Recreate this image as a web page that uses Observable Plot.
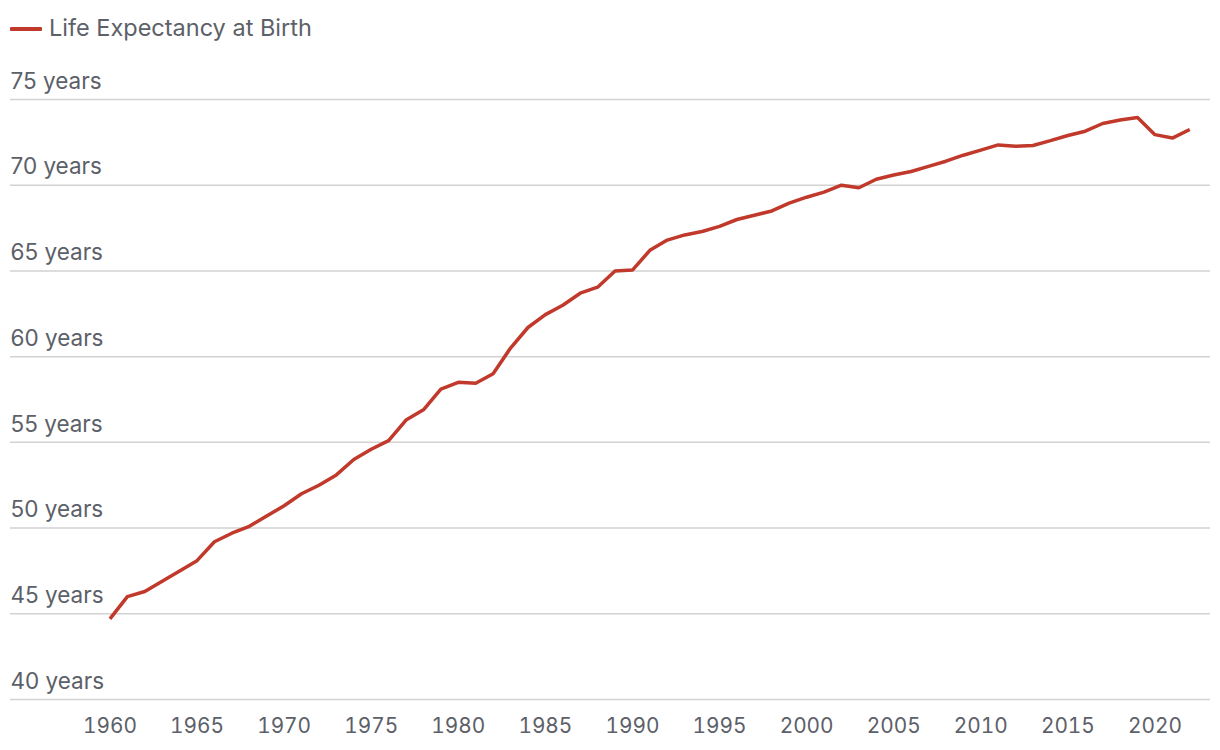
<!DOCTYPE html>
<html>
<head>
<meta charset="utf-8">
<script src="https://cdn.jsdelivr.net/npm/d3@7"></script>
<script src="https://cdn.jsdelivr.net/npm/@observablehq/plot@0.6"></script>
<style>
  html, body { margin: 0; padding: 0; background: #fff; }
  body { width: 1220px; height: 750px; overflow: hidden; font-family: Inter, "Noto Sans", sans-serif; }
  #legend { height: 56px; position: relative; }
  #legend .sw { position: absolute; left: 10px; top: 27px; width: 32px; height: 4px; background: #c0392b; border-radius: 1px; }
  #legend .lbl { position: absolute; left: 49px; top: 13px; font-size: 23.5px; color: #5c6068; line-height: 30px; }
</style>
</head>
<body>
<div id="legend"><span class="sw"></span><span class="lbl">Life Expectancy at Birth</span></div>
<div id="chart"></div>
<script>
const years = d3.range(1960, 2023);
const lifeExpectancy = [
  44.7, 46.0, 46.3, 46.9, 47.5, 48.1, 49.2, 49.7, 50.1, 50.7,
  51.3, 52.0, 52.5, 53.1, 54.0, 54.6, 55.1, 56.3, 56.9, 58.1,
  58.5, 58.45, 59.0, 60.5, 61.7, 62.45, 63.0, 63.7, 64.05, 65.0,
  65.05, 66.2, 66.8, 67.1, 67.3, 67.6, 68.0, 68.25, 68.5, 68.95,
  69.3, 69.6, 70.0, 69.85, 70.35, 70.6, 70.8, 71.1, 71.4, 71.75,
  72.05, 72.35, 72.27, 72.32, 72.6, 72.9, 73.15, 73.6, 73.8, 73.95,
  72.95, 72.75, 73.25
];
const yTicks = [40, 45, 50, 55, 60, 65, 70, 75];
const yTickLabels = yTicks.map(v => `${v} years`);
const xTicks = [1960, 1965, 1970, 1975, 1980, 1985, 1990, 1995, 2000, 2005, 2010, 2015, 2020];

const data = years.map((y, i) => ({year: y, value: lifeExpectancy[i]}));
const yLabelData = yTicks.map((v, i) => ({v, label: yTickLabels[i]}));

const chart = Plot.plot({
  width: 1220,
  height: 694,
  marginLeft: 10,
  marginRight: 10,
  marginTop: 43,
  marginBottom: 51,
  style: {fontFamily: "Inter, 'Noto Sans', sans-serif", color: "#5c6068", background: "#fff"},
  x: {domain: [1954.29, 2023.19], axis: null},
  y: {domain: [40, 75], axis: null},
  marks: [
    Plot.ruleY(yTicks, {stroke: "#d2d2d2", strokeWidth: 1.5}),
    Plot.text(yLabelData, {y: "v", text: "label", frameAnchor: "left", textAnchor: "start", dy: -18, fontSize: 22.5, fill: "#5c6068"}),
    Plot.axisX(xTicks, {tickSize: 0, tickPadding: 19, tickFormat: d => `${d}`, fontSize: 20.8, fill: "#5c6068", label: null}),
    Plot.line(data, {x: "year", y: "value", stroke: "#c0392b", strokeWidth: 3.5, strokeLinejoin: "miter", strokeLinecap: "butt"})
  ]
});
document.getElementById("chart").appendChild(chart);
</script>
</body>
</html>
